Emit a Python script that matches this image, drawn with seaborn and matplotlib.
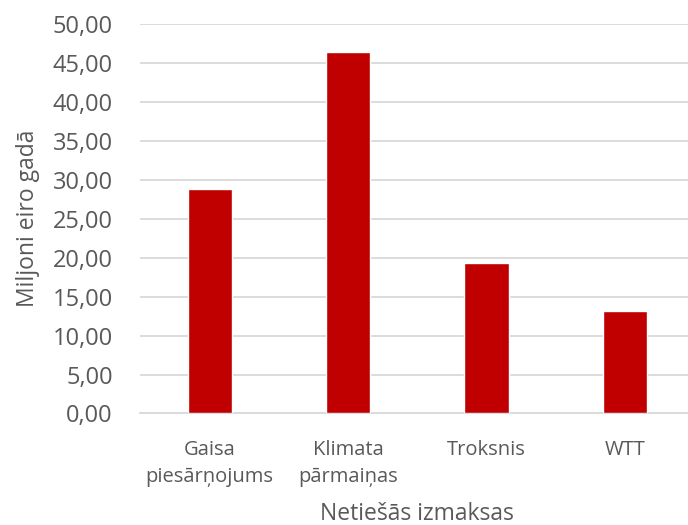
import pandas as pd
import matplotlib
matplotlib.use('Agg')
import matplotlib.pyplot as plt
import seaborn as sns
from matplotlib.ticker import FuncFormatter, MultipleLocator

# data
categories = ['Gaisa\npiesārņojums', 'Klimata\npārmaiņas', 'Troksnis', 'WTT']
values = [28.8, 46.4, 19.3, 13.2]

df = pd.DataFrame({'kat': categories, 'val': values})

sns.set_style('white')
plt.rcParams['font.family'] = ['Open Sans', 'DejaVu Sans']

text_col = '#595959'
fig = plt.figure(figsize=(6.88, 5.25), dpi=100)
ax = fig.add_axes([0.2042, 0.2124, 0.8045, 0.7419])

sns.barplot(data=df, x='kat', y='val', color='#C00000', width=0.32,
            saturation=1, ax=ax, zorder=3)

ax.set_ylim(0, 50)
ax.set_xlim(-0.5, 3.5)
ax.yaxis.set_major_locator(MultipleLocator(5))
ax.yaxis.set_major_formatter(FuncFormatter(lambda v, p: f'{v:.2f}'.replace('.', ',')))
ax.grid(axis='y', color='#D9D9D9', linewidth=1.3, zorder=0)
ax.grid(axis='x', visible=False)
for s in ['top', 'right', 'left']:
    ax.spines[s].set_visible(False)
ax.spines['bottom'].set_color('#D9D9D9')
ax.spines['bottom'].set_linewidth(1.3)

ax.tick_params(axis='y', length=0, pad=20, labelsize=17, labelcolor=text_col)
ax.tick_params(axis='x', length=0, pad=19, labelsize=14.5, labelcolor=text_col)
for t in ax.get_xticklabels():
    t.set_linespacing(1.45)

ax.set_ylabel('Miljoni eiro gadā', fontsize=16.5, color=text_col, labelpad=9)
ax.set_xlabel('Netiešās izmaksas', fontsize=16.5, color=text_col, labelpad=11)

fig.savefig('out.png', dpi=100)
